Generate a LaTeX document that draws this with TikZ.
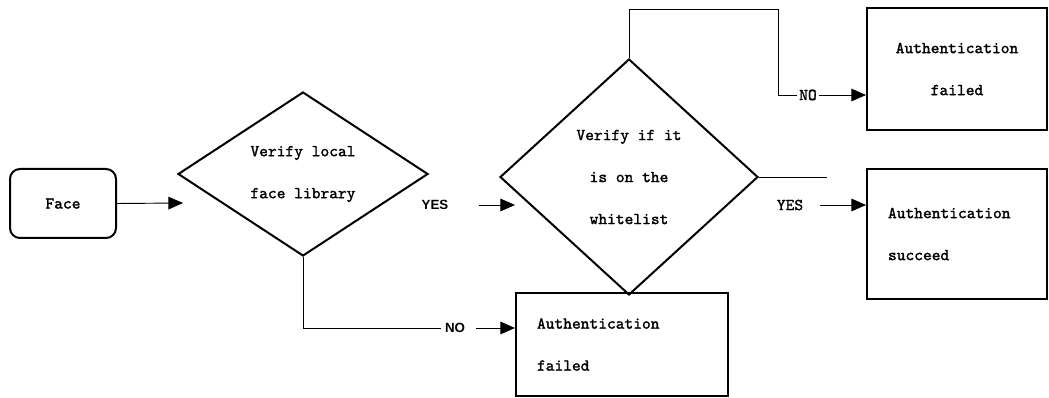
\documentclass[tikz,border=0pt]{standalone}
\usepackage{fontspec}
\usetikzlibrary{shapes.geometric}
\usetikzlibrary{arrows.meta}
\usetikzlibrary{positioning}
\newfontfamily\labelfont{Liberation Sans}
\newfontfamily\boxfont{lmmono10-regular.otf}[FakeBold=1.6]

\begin{document}
\begin{tikzpicture}[
  x=0.75pt,y=-0.75pt,
  line width=0.7pt,
  box/.style={draw,line width=1.5pt,font=\boxfont\fontsize{12.5}{31.5}\selectfont},
  decision/.style={box,diamond,inner sep=0pt,align=center},
  arr/.style={-{Triangle[length=11pt,width=9.5pt]}}]
  \tikzstyle{sanslabel}=[font=\labelfont\bfseries\fontsize{10}{12}\selectfont,inner sep=0pt]
  \tikzstyle{ttlabel}=[font=\boxfont\fontsize{12.5}{14}\selectfont,inner xsep=1.5pt,inner ysep=0pt]
  \useasboundingbox (0,0) rectangle (1049,398);

  \node[box,rounded corners=7.5pt,minimum width=79.5pt,minimum height=51.75pt] (face) at (63,203.5) {Face};
  \node[decision,minimum width=187.5pt,minimum height=123pt] (check) at (303,174) {Verify local\\face library};
  \node[decision,minimum width=193.5pt,minimum height=177pt] (white) at (629,177) {Verify if it\\is on the\\whitelist};
  \node[box,align=center,minimum width=135pt,minimum height=91.5pt] (failtop) at (957,69) {Authentication\\failed};
  \node[box,align=left,text width=103.5pt,inner xsep=15.75pt,minimum height=97.5pt] (success) at (957,234) {Authentication\\succeed};
  \node[box,align=left,text width=127.5pt,inner xsep=15.75pt,minimum height=77.25pt] (failbot) at (622,344.5) {Authentication\\failed};

  \node[sanslabel] (yesA) at (435,205) {YES};
  \node[sanslabel,inner xsep=3pt] (noA) at (455,328) {NO};
  \node[ttlabel] (yesB) at (790,205) {YES};
  \node[ttlabel] (noB) at (808,95) {NO};

  \coordinate (checkin) at (183,203);
  \coordinate (whitein) at (515,205);
  \coordinate (whiteout) at (827,177);
  \coordinate (topturn) at (778,9);

  \draw[arr] (face.east) -- (checkin);
  \draw[arr,shorten <=22.5pt] (yesA.east) -- (whitein);
  \draw (check.south) |- (noA.west);
  \draw[arr,shorten <=5pt] (noA.east) -- (noA -| failbot.west);
  \draw (white.north) |- (topturn) |- (noB.west);
  \draw[arr] (noB.east) -- (noB -| failtop.west);
  \draw (white.east) -- (whiteout);
  \draw[arr,shorten <=11pt] (yesB.east) -- (yesB -| success.west);
\end{tikzpicture}
\end{document}
